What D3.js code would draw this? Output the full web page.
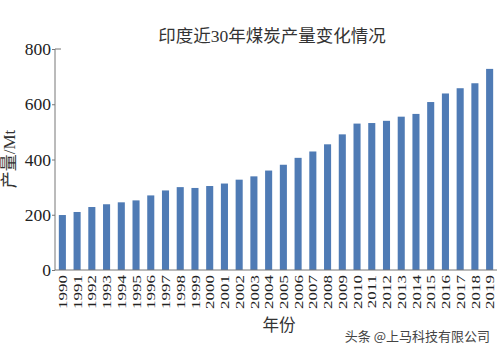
<!DOCTYPE html>
<html><head><meta charset="utf-8">
<script src="https://cdn.jsdelivr.net/npm/d3@7"></script>
<style>body{margin:0;background:#fff}svg{display:block}
.sf{font-family:"Liberation Serif","Noto Sans CJK SC",serif;}
</style>
</head><body>
<svg id="c" width="500" height="352"></svg>
<script>
const years = ["1990","1991","1992","1993","1994","1995","1996","1997","1998","1999","2000","2001","2002","2003","2004","2005","2006","2007","2008","2009","2010","2011","2012","2013","2014","2015","2016","2017","2018","2019"];
const production = [199,210,228,238,245,252,270,288,300,297,304,313,327,339,360,381,406,429,455,491,530,532,540,555,565,608,639,658,676,728];
const yTicks = [0,200,400,600,800];
const title = "印度近30年煤炭产量变化情况";
const yLabel = "产量/Mt";
const xLabel = "年份";
const watermark = "头条 @上马科技有限公司";

const svg = d3.select("#c");
const x = d3.scaleBand().domain(years).range([55, 497]).paddingInner(0.52).paddingOuter(0.26);
const y = d3.scaleLinear().domain([0, 800]).range([270, 49]);

svg.append("g").selectAll("rect").data(production).join("rect")
  .attr("x", (d, i) => x(years[i]))
  .attr("width", x.bandwidth())
  .attr("y", d => y(d))
  .attr("height", d => y(0) - y(d))
  .attr("fill", "#4f7bb5");

const ya = svg.append("g").attr("transform", "translate(55,0)")
  .call(d3.axisLeft(y).tickValues(yTicks).tickSize(3).tickPadding(1));
ya.attr("font-family", null).attr("font-size", null);
ya.select(".domain").attr("stroke", "#777").attr("d", "M6,49H0V270");
ya.selectAll(".tick line").attr("stroke", "#777");
ya.selectAll(".tick text").attr("class", "sf").style("font-size", "17.5px").attr("fill", "#222");

const xa = svg.append("g").attr("transform", "translate(0,270)")
  .call(d3.axisBottom(x).tickSize(0).tickPadding(0));
xa.attr("font-family", null).attr("font-size", null);
xa.select(".domain").attr("stroke", "#777").attr("d", "M55,0H497");
xa.selectAll(".tick text")
  .attr("class", "sf").style("font-size", "17px").attr("fill", "#222")
  .attr("transform", "rotate(-90) scale(1,0.78)").attr("text-anchor", "end")
  .attr("x", -5).attr("y", 0).attr("dy", "0.35em");

svg.append("text").attr("class", "sf").attr("x", 272).attr("y", 42).attr("text-anchor", "middle")
  .style("font-size", "17.5px").attr("fill", "#333").text(title);
svg.append("text").attr("class", "sf").attr("transform", "translate(15,159) rotate(-90)").attr("text-anchor", "middle")
  .style("font-size", "17px").attr("fill", "#333").text(yLabel);
svg.append("text").attr("class", "sf").attr("x", 279).attr("y", 331).attr("text-anchor", "middle")
  .style("font-size", "16.5px").attr("fill", "#333").text(xLabel);
svg.append("text").attr("x", 490).attr("y", 341).attr("text-anchor", "end")
  .style("font-family", "'Noto Sans CJK SC',sans-serif").style("font-size", "13px").attr("fill", "#444").text(watermark);
</script>
</body></html>
